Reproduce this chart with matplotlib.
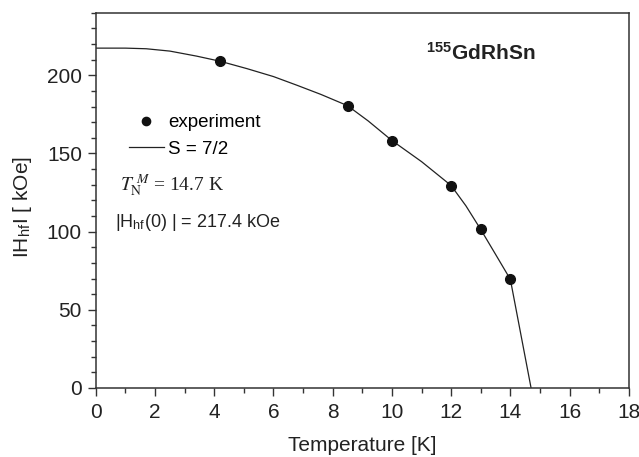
import matplotlib.pyplot as plt
from matplotlib.ticker import MultipleLocator

plt.rcParams['font.family'] = ['Liberation Sans', 'DejaVu Sans']
plt.rcParams['mathtext.fontset'] = 'stix'

# experimental hyperfine field points
temp_exp = [4.2, 8.5, 10.0, 12.0, 13.0, 14.0]
hhf_exp = [209, 180.6, 158.3, 129.5, 101.4, 69.5]

# S = 7/2 curve
temp_fit = [0, 1, 1.7, 2.5, 3.4, 4.2, 5.1, 6, 6.8, 7.6, 8.5, 9.2, 10, 11, 12, 12.5, 13, 13.5, 14, 14.7]
hhf_fit = [217.4, 217.4, 217.0, 215.5, 212.3, 209.0, 204.3, 199.2, 193.6, 187.8, 180.6, 170.8,
           158.3, 144.8, 129.5, 116.5, 101.4, 85.5, 69.5, 0]

fig = plt.figure(figsize=(6.39, 4.57), dpi=100)
ax = fig.add_axes([0.150, 0.151, 0.834, 0.821])

ax.plot(temp_fit, hhf_fit, color='#222222', lw=0.9, label='S = 7/2')
ax.plot(temp_exp, hhf_exp, 'o', color='#111111', ms=7, label='experiment')

ax.set_xlim(0, 18)
ax.set_ylim(0, 240)
ax.xaxis.set_major_locator(MultipleLocator(2))
ax.xaxis.set_minor_locator(MultipleLocator(1))
ax.yaxis.set_major_locator(MultipleLocator(50))
ax.yaxis.set_minor_locator(MultipleLocator(10))
ax.tick_params(which='major', direction='out', length=5.5, width=1, labelsize=15,
               color='#333333', labelcolor='#222222')
ax.tick_params(axis='y', which='major', pad=4.5)
ax.tick_params(axis='x', which='major', pad=5)
ax.tick_params(which='minor', direction='out', length=3.8, width=1, color='#333333')
for s in ax.spines.values():
    s.set_color('#333333')
    s.set_linewidth(1.1)

ax.set_xlabel('Temperature [K]', fontsize=15, color='#222222')
ax.xaxis.set_label_coords(0.5, -0.128)
ax.set_ylabel('IH$_\\mathregular{hf}$I [ kOe]', fontsize=15, color='#222222')
ax.yaxis.set_label_coords(-0.116, 0.483)

h, l = ax.get_legend_handles_labels()
ax.legend(h[::-1], l[::-1], loc='upper left', bbox_to_anchor=(0.062, 0.73), frameon=False,
          fontsize=13.5, handlelength=1.85, handletextpad=0.25, labelspacing=0.5,
          borderpad=0, borderaxespad=0, markerscale=0.85)

ax.text(0.045, 0.525, '$T_\\mathrm{N}^{\\ M}$ = 14.7 K', transform=ax.transAxes,
        fontsize=14, family='Liberation Serif', va='baseline', color='#222222')
ax.text(0.036, 0.43, '|H$_\\mathregular{hf}$(0) | = 217.4 kOe', transform=ax.transAxes,
        fontsize=13, va='baseline', color='#222222')
ax.text(0.619, 0.876, '$^\\mathregular{155}$GdRhSn', transform=ax.transAxes, fontsize=15,
        fontweight='bold', va='baseline', color='#222222')

fig.savefig('out.png', dpi=100)
